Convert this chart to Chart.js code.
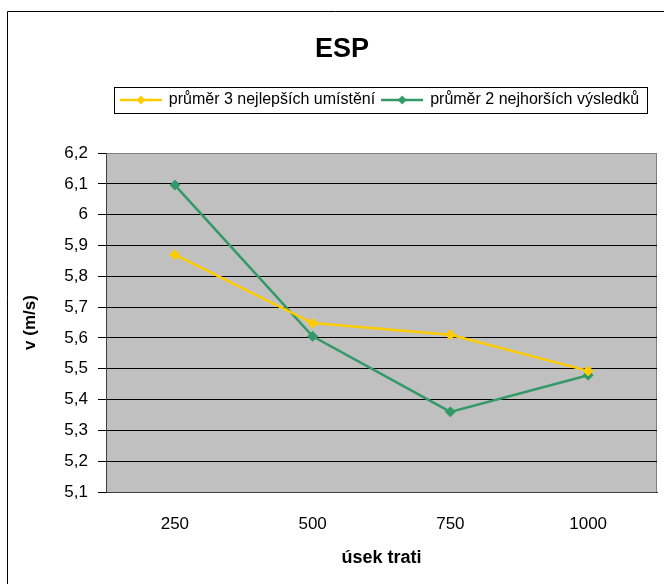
<!DOCTYPE html>
<html><head><meta charset="utf-8">
<script src="https://cdn.jsdelivr.net/npm/chart.js@4.4.1/dist/chart.umd.min.js"></script>
<style>html,body{margin:0;padding:0;background:#fff}#wrap{width:664px;height:584px;position:relative}</style>
</head><body><div id="wrap"><canvas id="c" width="664" height="584"></canvas></div>
<script>
const categories = ['250', '500', '750', '1000'];
const seriesNames = ['průměr 3 nejlepších umístění', 'průměr 2 nejhorších výsledků'];
const best3 = [5.87, 5.648, 5.61, 5.493];
const worst2 = [6.096, 5.605, 5.36, 5.479];
const yMin = 5.1, yMax = 6.2, yStep = 0.1;
const chartTitle = 'ESP';
const xTitle = 'úsek trati';
const yTitle = 'v (m/s)';

const FONT = "'Liberation Sans', Arial, sans-serif";
const YELLOW = '#FFCC00', GREEN = '#339966';
Chart.defaults.font.family = FONT;
Chart.defaults.color = '#000';

function legendSymbol(color) {
  const c = document.createElement('canvas');
  c.width = 42; c.height = 12;
  const g = c.getContext('2d');
  g.strokeStyle = color; g.lineWidth = 2.5;
  g.beginPath(); g.moveTo(0, 6); g.lineTo(42, 6); g.stroke();
  g.fillStyle = color;
  g.beginPath(); g.moveTo(21, 1.5); g.lineTo(25.5, 6); g.lineTo(21, 10.5); g.lineTo(16.5, 6); g.closePath(); g.fill();
  return c;
}
const symbols = [legendSymbol(YELLOW), legendSymbol(GREEN)];

const decor = {
  id: 'decor',
  afterLayout(chart) {
    const lg = chart.legend, ca = chart.chartArea;
    lg.top = 85; lg.bottom = 118; lg.height = 33;
    lg.left = ca.left - 7; lg.right = ca.right + 4; lg.width = lg.right - lg.left;
    const t = chart.titleBlock;
    t.left = 27; t.right = 657; t.width = 630;
  },
  beforeDraw(chart) {
    const {ctx, chartArea: a} = chart;
    ctx.save();
    ctx.fillStyle = '#fff'; ctx.fillRect(0, 0, chart.width, chart.height);
    ctx.fillStyle = '#C0C0C0'; ctx.fillRect(a.left, a.top, a.right - a.left, a.bottom - a.top);
    ctx.strokeStyle = '#808080'; ctx.lineWidth = 1;
    ctx.beginPath(); ctx.moveTo(Math.round(a.right) - 0.5, a.top); ctx.lineTo(Math.round(a.right) - 0.5, a.bottom); ctx.stroke();
    ctx.strokeStyle = '#000';
    ctx.beginPath(); ctx.moveTo(7.5, chart.height); ctx.lineTo(7.5, 11.5); ctx.lineTo(chart.width, 11.5); ctx.stroke();
    ctx.restore();
  },
  afterDraw(chart) {
    const hb = chart.legend.legendHitBoxes;
    if (!hb || !hb.length) return;
    const ctx = chart.ctx;
    const x1 = Math.round(hb[0].left - 7) + 0.5;
    const last = hb[hb.length - 1];
    const x2 = Math.round(last.left + last.width + 8) + 0.5;
    ctx.save();
    ctx.strokeStyle = '#000'; ctx.lineWidth = 1;
    ctx.strokeRect(x1, 87.5, x2 - x1, 26);
    ctx.restore();
  }
};

new Chart(document.getElementById('c'), {
  type: 'line',
  data: {
    labels: categories,
    datasets: [
      {label: seriesNames[0], data: best3, borderColor: YELLOW, backgroundColor: YELLOW,
       borderWidth: 2.5, pointStyle: 'rectRot', pointRadius: 5, pointBorderWidth: 1,
       pointBackgroundColor: YELLOW, pointBorderColor: YELLOW, tension: 0},
      {label: seriesNames[1], data: worst2, borderColor: GREEN, backgroundColor: GREEN,
       borderWidth: 2.5, pointStyle: 'rectRot', pointRadius: 5, pointBorderWidth: 1,
       pointBackgroundColor: GREEN, pointBorderColor: GREEN, tension: 0}
    ]
  },
  options: {
    responsive: false, animation: false, devicePixelRatio: 1,
    layout: {padding: {left: 16, right: 7, top: 20, bottom: 10}},
    plugins: {
      title: {display: true, text: chartTitle, color: '#000',
              font: {size: 27, weight: 'bold', family: FONT}, padding: {top: 13, bottom: 54.6}},
      legend: {
        display: true, position: 'top',
        labels: {
          font: {size: 16, family: FONT}, color: '#000', usePointStyle: true, pointStyleWidth: 40, padding: 7,
          generateLabels(chart) {
            const items = Chart.defaults.plugins.legend.labels.generateLabels(chart);
            items.forEach((it, i) => { it.pointStyle = symbols[i]; });
            return items;
          }
        }
      },
      tooltip: {enabled: false}
    },
    scales: {
      x: {
        offset: true,
        grid: {display: true, drawOnChartArea: false, drawTicks: false},
        border: {color: '#404040', width: 1},
        ticks: {font: {size: 17}, color: '#000', padding: 22, maxRotation: 0},
        title: {display: true, text: xTitle, color: '#000', font: {size: 18, weight: 'bold'}, padding: {top: 0, bottom: 5}},
        afterFit(s) { s.height = 82; }
      },
      y: {
        min: yMin, max: yMax,
        ticks: {stepSize: yStep, font: {size: 17}, color: '#000', padding: 10,
                callback: v => (Math.round(v * 10) / 10).toString().replace('.', ',')},
        grid: {color: c => (c.tick && Math.abs(c.tick.value - yMax) < 1e-6) ? '#808080' : '#000',
               tickColor: '#000', tickLength: 8, lineWidth: 1},
        border: {color: '#404040', width: 1},
        title: {display: true, text: yTitle, color: '#000', font: {size: 17, weight: 'bold'}, padding: {top: 4, bottom: 0}},
        afterFit(s) { s.width = 90; }
      }
    }
  },
  plugins: [decor]
});
</script>
</body></html>
